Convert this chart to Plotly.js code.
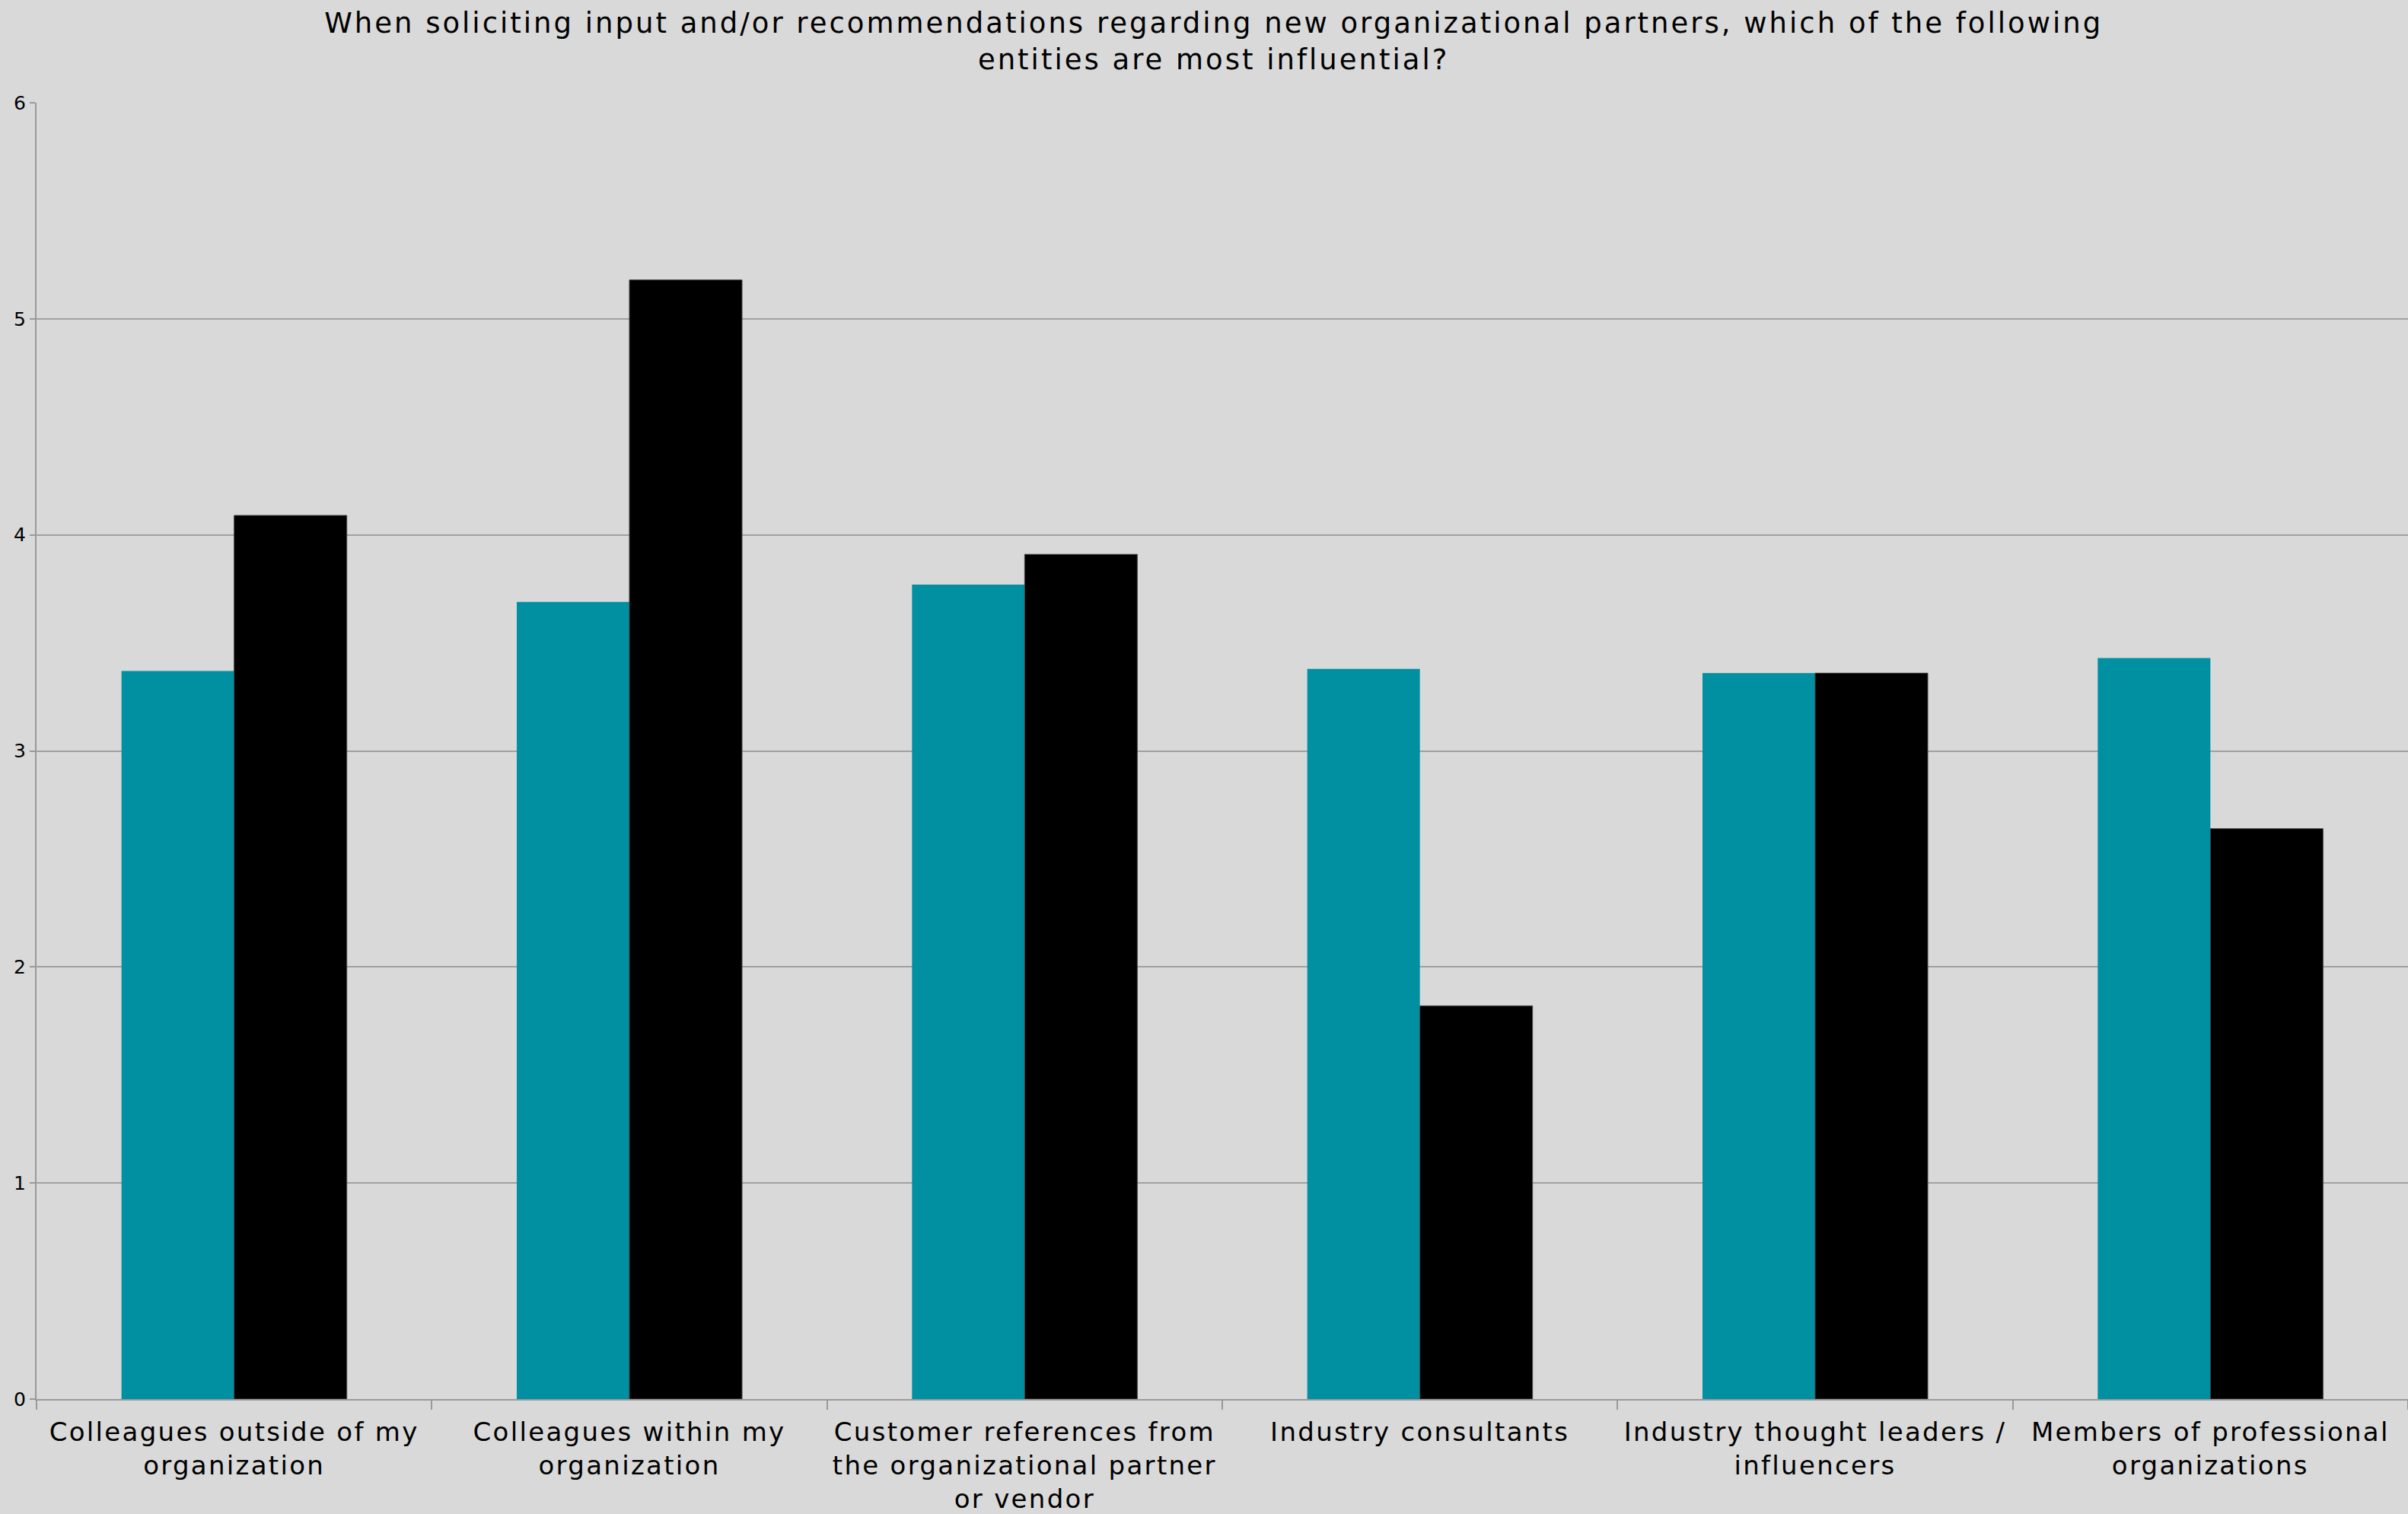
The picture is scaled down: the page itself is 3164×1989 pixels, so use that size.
<!DOCTYPE html>
<html>
<head>
<meta charset="utf-8">
<script src="https://cdn.plot.ly/plotly-3.0.1.min.js"></script>
<style>
html,body{margin:0;padding:0;background:#d9d9d9;}
#chart{width:3164px;height:1989px;}
#chart .xtick text{letter-spacing:2.3px;}
#chart text.gtitle{letter-spacing:3px;}
</style>
</head>
<body>
<div id="chart"></div>
<script>
const categories = [
  "Colleagues outside of my<br>organization",
  "Colleagues within my<br>organization",
  "Customer references from<br>the organizational partner<br>or vendor",
  "Industry consultants",
  "Industry thought leaders /<br>influencers",
  "Members of professional<br>organizations"
];
const seriesA = [3.37, 3.69, 3.77, 3.38, 3.36, 3.43];
const seriesB = [4.09, 5.18, 3.91, 1.82, 3.36, 2.64];
const yTicks = [0, 1, 2, 3, 4, 5, 6];
const titleText = "When soliciting input and/or recommendations regarding new organizational partners, which of the following<br>entities are most influential?";

const font = "DejaVu Sans, sans-serif";
const traces = [
  {type: "bar", x: categories, y: seriesA, marker: {color: "#0190a1"}, hoverinfo: "none"},
  {type: "bar", x: categories, y: seriesB, marker: {color: "#000000", line: {color: "#444", width: 1}}, hoverinfo: "none"}
];
const layout = {
  width: 3164, height: 1989,
  paper_bgcolor: "#d9d9d9", plot_bgcolor: "#d9d9d9",
  margin: {l: 48, r: 0, t: 135, b: 151, pad: 0},
  showlegend: false,
  barmode: "group", bargap: 0.43, bargroupgap: 0,
  title: {text: titleText, x: 0.504, xref: "container", xanchor: "center", y: 0.9785, yref: "container", yanchor: "top",
          font: {family: font, size: 37, color: "#000"}},
  xaxis: {type: "category", tickson: "boundaries", ticks: "outside", ticklen: 12, tickcolor: "#999", tickwidth: 2,
          showline: true, linecolor: "#999", linewidth: 2, showgrid: false, ticklabelstandoff: 12,
          tickfont: {family: font, size: 34, color: "#000"}, automargin: false},
  yaxis: {range: [0, 6], tickvals: yTicks, ticktext: yTicks.map(String), ticks: "outside", ticklen: 7, tickcolor: "#999", tickwidth: 2,
          showline: true, linecolor: "#999", linewidth: 2, showgrid: true, gridcolor: "#a0a0a0", gridwidth: 2,
          zeroline: false, tickfont: {family: font, size: 25, color: "#000"}, automargin: false}
};
Plotly.newPlot("chart", traces, layout, {displayModeBar: false, staticPlot: true});
</script>
</body>
</html>
